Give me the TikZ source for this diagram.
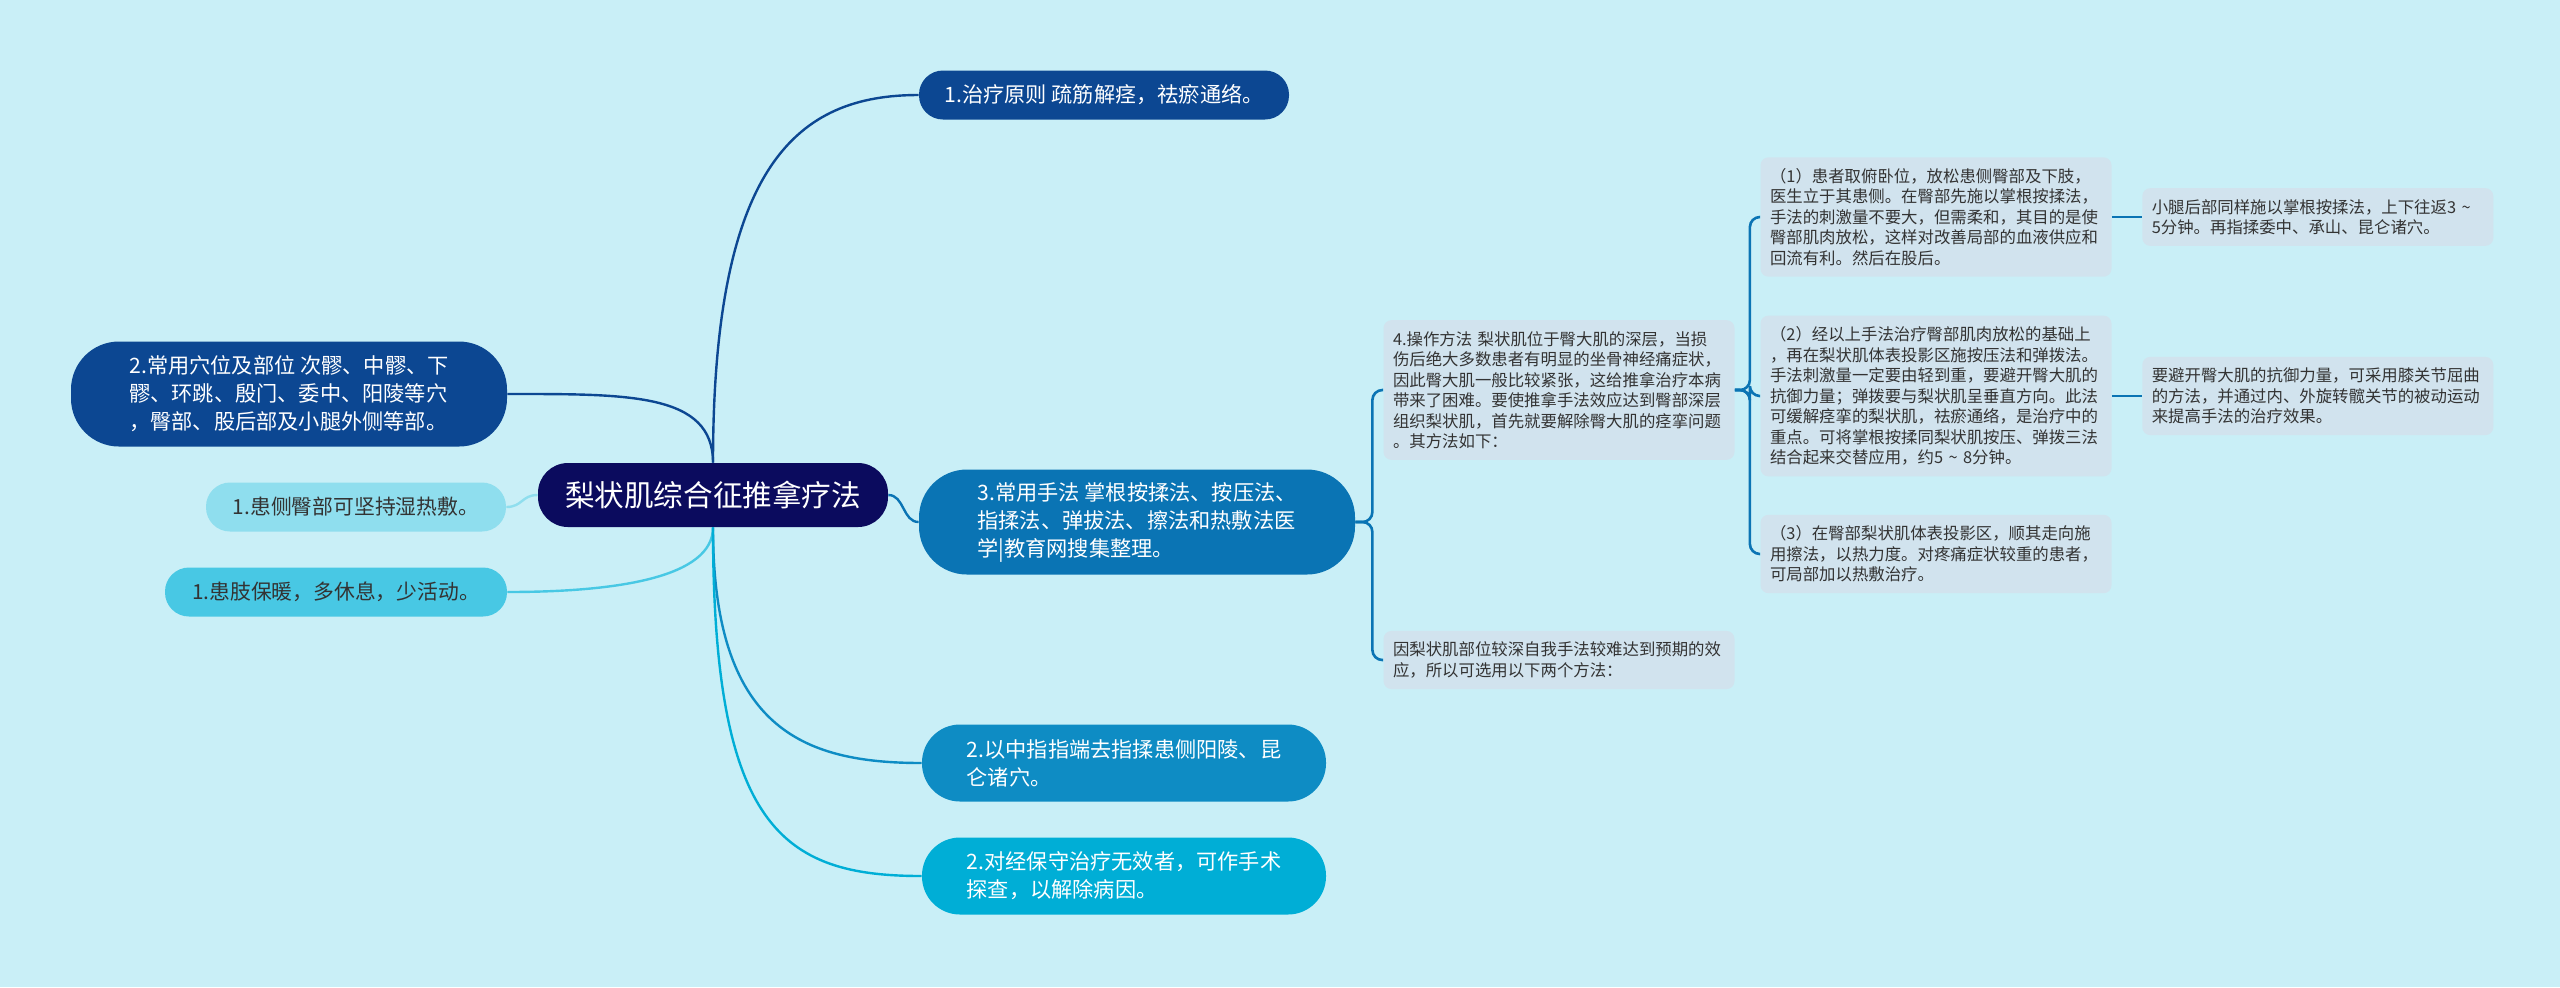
\documentclass[tikz,border=0pt]{standalone}
\usepackage{fontspec}
\setmainfont{Noto Sans CJK SC}
\usetikzlibrary{positioning}
\definecolor{mapbg}{RGB}{201,239,247}
\definecolor{navy}{RGB}{11,11,94}
\definecolor{deepblue}{RGB}{12,71,146}
\definecolor{midblue}{RGB}{10,116,180}
\definecolor{oceanblue}{RGB}{14,140,196}
\definecolor{cyanblue}{RGB}{0,174,214}
\definecolor{palecyan}{RGB}{143,222,238}
\definecolor{skycyan}{RGB}{72,200,228}
\definecolor{notebg}{RGB}{209,227,238}
\definecolor{notetext}{RGB}{51,51,51}

\begin{document}
\begin{tikzpicture}[
  x=0.5pt, y=-0.5pt,
  hub/.style={rectangle, rounded corners=15pt, fill=navy, text=white,
              minimum width=175pt, minimum height=32pt, inner sep=0pt,
              font=\fontsize{14.8}{18}\selectfont},
  topic/.style={rectangle, fill=deepblue, text=white, align=left, inner sep=0pt,
                font=\fontsize{10.6}{14}\selectfont},
  side/.style={rectangle, rounded corners=12pt, text=notetext, inner sep=0pt,
               minimum height=24.5pt, font=\fontsize{10.4}{13}\selectfont},
  note/.style={rectangle, rounded corners=4pt, fill=notebg, text=notetext,
               text width=166pt, align=left, inner xsep=4.75pt, inner ysep=5.5pt,
               font=\fontsize{8.2}{10.25}\selectfont},
  ln/.style={line width=1.2pt},
  sub/.style={line width=1.3pt, midblue, rounded corners=5pt}
]
\fill[mapbg] (0,0) rectangle (2560,987);
\useasboundingbox (0,0) rectangle (2560,987);

% ---- centre ----
\node[hub] (hub) at (713,495) {梨状肌综合征推拿疗法};

% ---- right branches ----
\node[topic, rounded corners=12pt, minimum width=185pt, minimum height=24.5pt] (n1) at (1104,95)
  {1.治疗原则 疏筋解痉，祛瘀通络。};
\node[topic, fill=midblue, rounded corners=24pt, minimum width=218pt, minimum height=52.5pt] (n3) at (1137,522)
  {3.常用手法 掌根按揉法、按压法、\\指揉法、弹拔法、擦法和热敷法医\\学|教育网搜集整理。};
\node[topic, fill=oceanblue, rounded corners=19pt, minimum width=202pt, minimum height=38.5pt] (n2b) at (1124,763)
  {2.以中指指端去指揉患侧阳陵、昆\\仑诸穴。};
\node[topic, fill=cyanblue, rounded corners=19pt, minimum width=202pt, minimum height=38.5pt] (n2c) at (1124,876)
  {2.对经保守治疗无效者，可作手术\\探查，以解除病因。};

% ---- left branches ----
\node[topic, rounded corners=24pt, minimum width=218pt, minimum height=52.5pt] (n2) at (289,394)
  {2.常用穴位及部位 次髎、中髎、下\\髎、环跳、殷门、委中、阳陵等穴\\，臀部、股后部及小腿外侧等部。};
\node[side, fill=palecyan, minimum width=150pt] (sideA) at (356,507) {1.患侧臀部可坚持湿热敷。};
\node[side, fill=skycyan, minimum width=171pt] (sideB) at (336,592) {1.患肢保暖，多休息，少活动。};

\draw[ln, deepblue] (hub.north) .. controls +(0,-300) and +(-120,0) .. (n1.west);
\draw[ln, deepblue] (hub.north) .. controls +(0,-70) and +(120,0) .. (n2.east);
\draw[ln, palecyan] (hub.west) .. controls +(-16,0) and +(16,0) .. (sideA.east);
\draw[ln, skycyan] (hub.south) .. controls +(0,50) and +(110,0) .. (sideB.east);
\draw[ln, midblue] (hub.east) .. controls +(16,0) and +(-16,0) .. (n3.west);
\draw[ln, oceanblue] (hub.south) .. controls +(0,200) and +(-120,0) .. (n2b.west);
\draw[ln, cyanblue] (hub.south) .. controls +(0,300) and +(-140,0) .. (n2c.west);

% ---- method notes ----
\node[note] (op) at (1559,390)
  {4.操作方法~梨状肌位于臀大肌的深层，当损\\伤后绝大多数患者有明显的坐骨神经痛症状，\\因此臀大肌一般比较紧张，这给推拿治疗本病\\带来了困难。要使推拿手法效应达到臀部深层\\组织梨状肌，首先就要解除臀大肌的痉挛问题\\。其方法如下：};
\node[note] (why) at (1559,660)
  {因梨状肌部位较深自我手法较难达到预期的效\\应，所以可选用以下两个方法：};

\draw[sub] (n3.east) -- ++(17,0) |- (op.west);
\draw[sub] (n3.east) -- ++(17,0) |- (why.west);

\node[note] (s1) at (1936,217)
  {（1）患者取俯卧位，放松患侧臀部及下肢，\\医生立于其患侧。在臀部先施以掌根按揉法，\\手法的刺激量不要大，但需柔和，其目的是使\\臀部肌肉放松，这样对改善局部的血液供应和\\回流有利。然后在股后。};
\node[note] (s2) at (1936,396)
  {（2）经以上手法治疗臀部肌肉放松的基础上\\，再在梨状肌体表投影区施按压法和弹拨法。\\手法刺激量一定要由轻到重，要避开臀大肌的\\抗御力量；弹拨要与梨状肌呈垂直方向。此法\\可缓解痉挛的梨状肌，祛瘀通络，是治疗中的\\重点。可将掌根按揉同梨状肌按压、弹拨三法\\结合起来交替应用，约5~\textasciitilde~8分钟。};
\node[note] (s3) at (1936,554)
  {（3）在臀部梨状肌体表投影区，顺其走向施\\用擦法，以热力度。对疼痛症状较重的患者，\\可局部加以热敷治疗。};

\draw[sub] (op.east) -- ++(15,0) |- (s1.west);
\draw[sub] (op.east) -- ++(15,0) |- (s2.west);
\draw[sub] (op.east) -- ++(15,0) |- (s3.west);

\node[note, right=15pt of s1] (t1)
  {小腿后部同样施以掌根按揉法，上下往返3~\textasciitilde\\5分钟。再指揉委中、承山、昆仑诸穴。};
\node[note, right=15pt of s2] (t2)
  {要避开臀大肌的抗御力量，可采用膝关节屈曲\\的方法，并通过内、外旋转髋关节的被动运动\\来提高手法的治疗效果。};

\draw[sub] (s1) -- (t1);
\draw[sub] (s2) -- (t2);

\end{tikzpicture}
\end{document}
